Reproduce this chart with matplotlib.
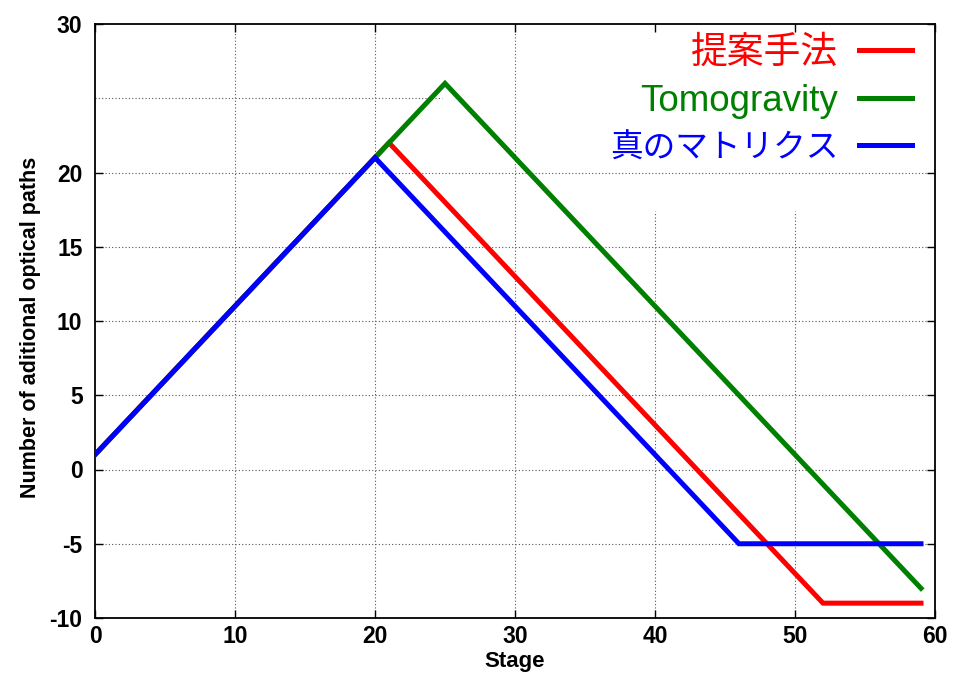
import matplotlib
matplotlib.use("Agg")
import matplotlib.pyplot as plt

plt.rcParams['font.family'] = ['Liberation Sans', 'Noto Sans CJK JP', 'DejaVu Sans']
plt.rcParams['axes.unicode_minus'] = False

# breakpoints of each series (stage, number of paths)
labels = ["提案手法", "Tomogravity", "真のマトリクス"]
colors = ["#ff0000", "#008000", "#0000ff"]
prop_stage = [0, 20, 21, 52, 59]
prop_paths = [1, 21, 22, -9, -9]
tomo_stage = [0, 25, 59]
tomo_paths = [1, 26, -8]
true_stage = [0, 20, 46, 59]
true_paths = [1, 21, -5, -5]

xticks = [0, 10, 20, 30, 40, 50, 60]
yticks = [-10, -5, 0, 5, 10, 15, 20, 30]

fig = plt.figure(figsize=(9.55, 6.74), dpi=100)
ax = fig.add_axes([95 / 955, 1 - 618 / 674, 840 / 955, 594 / 674])

# dotted grid, cut short where the key sits
gs = dict(color="#555555", lw=0.8, ls=(0, (1, 2)), zorder=1)
for x in [10, 20, 30]:
    ax.plot([x, x], [-10, 30], **gs)
for x in [40, 50]:
    ax.plot([x, x], [-10, 17.4], **gs)
for y in [-5, 0, 5, 10, 15, 20]:
    ax.plot([0, 60], [y, y], **gs)
ax.plot([0, 24.8], [25, 25], **gs)

series = [(prop_stage, prop_paths), (tomo_stage, tomo_paths), (true_stage, true_paths)]
handles = []
for (xs, ys), c, lab in zip(series, colors, labels):
    h, = ax.plot(xs, ys, color=c, lw=3.6, label=lab, zorder=3, solid_joinstyle="miter")
    handles.append(h)

ax.set_xlim(0, 60)
ax.set_ylim(-10, 30)
ax.set_xticks(xticks)
ax.set_yticks(yticks)
ax.tick_params(direction="in", length=6, width=1, top=True, right=True,
               labelsize=16.5)
ax.tick_params(axis="y", pad=9)
ax.tick_params(axis="x", pad=5)
for t in ax.get_xticklabels() + ax.get_yticklabels():
    t.set_fontweight("bold")
for s in ax.spines.values():
    s.set_linewidth(1.3)

ax.set_xlabel("Stage", fontsize=16, fontweight="bold")
ax.xaxis.set_label_coords(0.5, -0.056)
ax.xaxis.label.set_va("top")
ax.set_ylabel("Number of aditional optical paths", fontsize=15.5, fontweight="bold")
ax.yaxis.set_label_coords(-0.064, 0.49)

leg = ax.legend(handles=handles, loc="upper right", markerfirst=False,
                frameon=False, fontsize=26.5, handlelength=1.45,
                handletextpad=0.55, labelspacing=0.36, borderaxespad=0.0,
                labelcolor="linecolor", bbox_to_anchor=(0.99, 1.005))
leg.get_texts()[2].set_fontsize(23.5)

fig.savefig("out.png", dpi=100)
